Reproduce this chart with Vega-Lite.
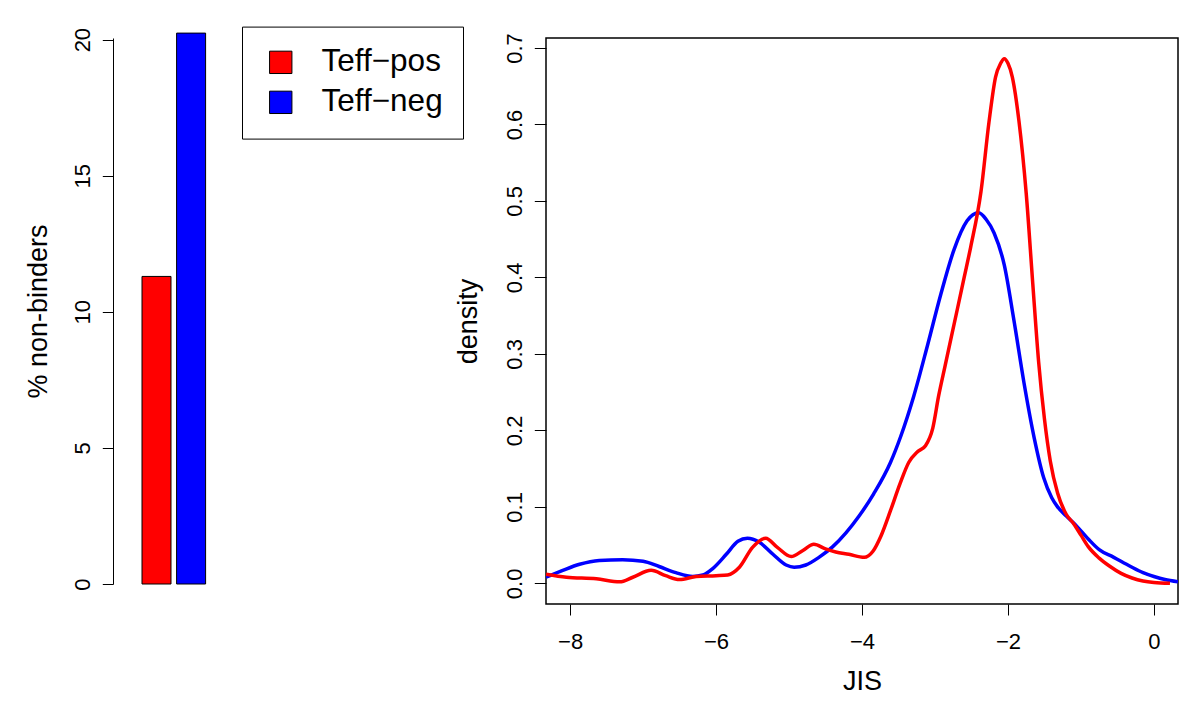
{
  "$schema": "https://vega.github.io/schema/vega-lite/v6.json",
  "padding": {"left": 24, "top": 26, "right": 5, "bottom": 5},
  "background": "white",
  "config": {
    "font": "Liberation Sans",
    "view": {"stroke": null},
    "axis": {
      "domainColor": "black", "tickColor": "black", "labelColor": "black", "titleColor": "black",
      "grid": false, "labelFont": "Liberation Sans", "titleFont": "Liberation Sans",
      "labelFontSize": 22, "titleFontSize": 27, "titleFontWeight": "normal",
      "domainWidth": 1, "tickWidth": 1
    }
  },
  "datasets": {
    "bars": [
      {"group": "Teff−pos", "pct": 11.3},
      {"group": "Teff−neg", "pct": 20.24}
    ],
    "dens": [
      {"group": "Teff−neg", "JIS": -8.33, "density": 0.008},
      {"group": "Teff−neg", "JIS": -8.10, "density": 0.017},
      {"group": "Teff−neg", "JIS": -7.87, "density": 0.025},
      {"group": "Teff−neg", "JIS": -7.60, "density": 0.030},
      {"group": "Teff−neg", "JIS": -7.28, "density": 0.031},
      {"group": "Teff−neg", "JIS": -7.00, "density": 0.029},
      {"group": "Teff−neg", "JIS": -6.78, "density": 0.022},
      {"group": "Teff−neg", "JIS": -6.55, "density": 0.014},
      {"group": "Teff−neg", "JIS": -6.32, "density": 0.009},
      {"group": "Teff−neg", "JIS": -6.18, "density": 0.011},
      {"group": "Teff−neg", "JIS": -6.05, "density": 0.019},
      {"group": "Teff−neg", "JIS": -5.86, "density": 0.038},
      {"group": "Teff−neg", "JIS": -5.70, "density": 0.055},
      {"group": "Teff−neg", "JIS": -5.57, "density": 0.059},
      {"group": "Teff−neg", "JIS": -5.41, "density": 0.054},
      {"group": "Teff−neg", "JIS": -5.22, "density": 0.038},
      {"group": "Teff−neg", "JIS": -5.04, "density": 0.024},
      {"group": "Teff−neg", "JIS": -4.93, "density": 0.021},
      {"group": "Teff−neg", "JIS": -4.77, "density": 0.024},
      {"group": "Teff−neg", "JIS": -4.59, "density": 0.034},
      {"group": "Teff−neg", "JIS": -4.40, "density": 0.048},
      {"group": "Teff−neg", "JIS": -4.22, "density": 0.066},
      {"group": "Teff−neg", "JIS": -4.04, "density": 0.088},
      {"group": "Teff−neg", "JIS": -3.84, "density": 0.117},
      {"group": "Teff−neg", "JIS": -3.61, "density": 0.158},
      {"group": "Teff−neg", "JIS": -3.47, "density": 0.192},
      {"group": "Teff−neg", "JIS": -3.29, "density": 0.245},
      {"group": "Teff−neg", "JIS": -3.10, "density": 0.312},
      {"group": "Teff−neg", "JIS": -2.92, "density": 0.378},
      {"group": "Teff−neg", "JIS": -2.74, "density": 0.436},
      {"group": "Teff−neg", "JIS": -2.56, "density": 0.474},
      {"group": "Teff−neg", "JIS": -2.48, "density": 0.482},
      {"group": "Teff−neg", "JIS": -2.40, "density": 0.4845},
      {"group": "Teff−neg", "JIS": -2.30, "density": 0.476},
      {"group": "Teff−neg", "JIS": -2.19, "density": 0.458},
      {"group": "Teff−neg", "JIS": -2.05, "density": 0.416},
      {"group": "Teff−neg", "JIS": -1.92, "density": 0.345},
      {"group": "Teff−neg", "JIS": -1.78, "density": 0.262},
      {"group": "Teff−neg", "JIS": -1.64, "density": 0.190},
      {"group": "Teff−neg", "JIS": -1.51, "density": 0.138},
      {"group": "Teff−neg", "JIS": -1.40, "density": 0.112},
      {"group": "Teff−neg", "JIS": -1.32, "density": 0.100},
      {"group": "Teff−neg", "JIS": -1.20, "density": 0.088},
      {"group": "Teff−neg", "JIS": -1.10, "density": 0.079},
      {"group": "Teff−neg", "JIS": -0.90, "density": 0.058},
      {"group": "Teff−neg", "JIS": -0.75, "density": 0.044},
      {"group": "Teff−neg", "JIS": -0.55, "density": 0.034},
      {"group": "Teff−neg", "JIS": -0.32, "density": 0.022},
      {"group": "Teff−neg", "JIS": -0.15, "density": 0.014},
      {"group": "Teff−neg", "JIS": 0.00, "density": 0.009},
      {"group": "Teff−neg", "JIS": 0.15, "density": 0.005},
      {"group": "Teff−neg", "JIS": 0.33, "density": 0.002},
      {"group": "Teff−pos", "JIS": -8.33, "density": 0.012},
      {"group": "Teff−pos", "JIS": -8.05, "density": 0.008},
      {"group": "Teff−pos", "JIS": -7.64, "density": 0.006},
      {"group": "Teff−pos", "JIS": -7.32, "density": 0.002},
      {"group": "Teff−pos", "JIS": -7.14, "density": 0.008},
      {"group": "Teff−pos", "JIS": -6.89, "density": 0.017},
      {"group": "Teff−pos", "JIS": -6.69, "density": 0.010},
      {"group": "Teff−pos", "JIS": -6.50, "density": 0.005},
      {"group": "Teff−pos", "JIS": -6.27, "density": 0.009},
      {"group": "Teff−pos", "JIS": -6.00, "density": 0.010},
      {"group": "Teff−pos", "JIS": -5.84, "density": 0.011},
      {"group": "Teff−pos", "JIS": -5.68, "density": 0.021},
      {"group": "Teff−pos", "JIS": -5.50, "density": 0.047},
      {"group": "Teff−pos", "JIS": -5.32, "density": 0.059},
      {"group": "Teff−pos", "JIS": -5.16, "density": 0.047},
      {"group": "Teff−pos", "JIS": -4.97, "density": 0.035},
      {"group": "Teff−pos", "JIS": -4.81, "density": 0.043},
      {"group": "Teff−pos", "JIS": -4.66, "density": 0.051},
      {"group": "Teff−pos", "JIS": -4.50, "density": 0.045},
      {"group": "Teff−pos", "JIS": -4.36, "density": 0.041},
      {"group": "Teff−pos", "JIS": -4.18, "density": 0.038},
      {"group": "Teff−pos", "JIS": -3.97, "density": 0.034},
      {"group": "Teff−pos", "JIS": -3.85, "density": 0.042},
      {"group": "Teff−pos", "JIS": -3.74, "density": 0.062},
      {"group": "Teff−pos", "JIS": -3.61, "density": 0.095},
      {"group": "Teff−pos", "JIS": -3.48, "density": 0.130},
      {"group": "Teff−pos", "JIS": -3.36, "density": 0.158},
      {"group": "Teff−pos", "JIS": -3.24, "density": 0.172},
      {"group": "Teff−pos", "JIS": -3.13, "density": 0.180},
      {"group": "Teff−pos", "JIS": -3.03, "density": 0.203},
      {"group": "Teff−pos", "JIS": -2.95, "density": 0.245},
      {"group": "Teff−pos", "JIS": -2.86, "density": 0.285},
      {"group": "Teff−pos", "JIS": -2.69, "density": 0.360},
      {"group": "Teff−pos", "JIS": -2.60, "density": 0.400},
      {"group": "Teff−pos", "JIS": -2.51, "density": 0.440},
      {"group": "Teff−pos", "JIS": -2.37, "density": 0.512},
      {"group": "Teff−pos", "JIS": -2.26, "density": 0.603},
      {"group": "Teff−pos", "JIS": -2.17, "density": 0.662},
      {"group": "Teff−pos", "JIS": -2.10, "density": 0.680},
      {"group": "Teff−pos", "JIS": -2.05, "density": 0.686},
      {"group": "Teff−pos", "JIS": -2.00, "density": 0.680},
      {"group": "Teff−pos", "JIS": -1.94, "density": 0.662},
      {"group": "Teff−pos", "JIS": -1.85, "density": 0.605},
      {"group": "Teff−pos", "JIS": -1.75, "density": 0.510},
      {"group": "Teff−pos", "JIS": -1.66, "density": 0.392},
      {"group": "Teff−pos", "JIS": -1.58, "density": 0.290},
      {"group": "Teff−pos", "JIS": -1.50, "density": 0.215},
      {"group": "Teff−pos", "JIS": -1.42, "density": 0.160},
      {"group": "Teff−pos", "JIS": -1.32, "density": 0.118},
      {"group": "Teff−pos", "JIS": -1.20, "density": 0.090},
      {"group": "Teff−pos", "JIS": -1.10, "density": 0.078},
      {"group": "Teff−pos", "JIS": -1.00, "density": 0.063},
      {"group": "Teff−pos", "JIS": -0.90, "density": 0.048},
      {"group": "Teff−pos", "JIS": -0.75, "density": 0.033},
      {"group": "Teff−pos", "JIS": -0.60, "density": 0.022},
      {"group": "Teff−pos", "JIS": -0.45, "density": 0.013},
      {"group": "Teff−pos", "JIS": -0.30, "density": 0.007},
      {"group": "Teff−pos", "JIS": -0.15, "density": 0.003},
      {"group": "Teff−pos", "JIS": 0.00, "density": 0.001},
      {"group": "Teff−pos", "JIS": 0.22, "density": 0.000}
    ]
  },
  "bounds": "flush",
  "spacing": 88,
  "resolve": {"scale": {"color": "independent"}, "legend": {"color": "independent"}},
  "hconcat": [
    {
      "width": 345,
      "height": 546,
      "data": {"name": "bars"},
      "mark": {"type": "bar", "stroke": "black", "strokeWidth": 1, "clip": false},
      "encoding": {
        "x": {
          "field": "group", "type": "nominal", "sort": ["Teff−pos", "Teff−neg"],
          "scale": {"range": [29, 92.6], "paddingInner": 0.162, "paddingOuter": 0},
          "axis": null
        },
        "y": {
          "field": "pct", "type": "quantitative",
          "scale": {"domain": [0, 20.06], "nice": false},
          "axis": {
            "values": [0, 5, 10, 15, 20], "title": "% non-binders",
            "labelAngle": 270, "labelAlign": "center", "labelBaseline": "alphabetic",
            "tickSize": 10.7, "labelPadding": 12.7,
            "titleAngle": 270, "titleBaseline": "alphabetic", "titleAlign": "center", "titleX": -66.7
          }
        },
        "color": {
          "field": "group", "type": "nominal",
          "scale": {"domain": ["Teff−pos", "Teff−neg"], "range": ["#FF0000", "#0000FF"]},
          "legend": {
            "orient": "none", "legendX": 129, "legendY": -11.4, "title": null,
            "symbolType": "square", "symbolSize": 500, "symbolStrokeColor": "black", "symbolStrokeWidth": 1,
            "labelFontSize": 31.5, "labelFont": "Liberation Sans", "labelColor": "black",
            "labelOffset": 25, "padding": 20, "symbolOffset": 3, "rowPadding": 7,
            "strokeColor": "black", "fillColor": "white"
          }
        }
      }
    },
    {
      "width": 632,
      "height": 566,
      "data": {"name": "dens"},
      "view": {"stroke": "black", "strokeWidth": 1.5},
      "mark": {"type": "line", "interpolate": "monotone", "strokeWidth": 3.5, "clip": true},
      "encoding": {
        "x": {
          "field": "JIS", "type": "quantitative",
          "scale": {"domain": [-8.33, 0.33], "nice": false, "zero": false},
          "axis": {
            "values": [-8, -6, -4, -2, 0], "title": "JIS", "domain": false,
            "tickSize": 11, "labelPadding": 16, "titleBaseline": "top", "titleY": 64
          }
        },
        "y": {
          "field": "density", "type": "quantitative",
          "scale": {"domain": [-0.027, 0.713], "nice": false, "zero": false},
          "axis": {
            "values": [0, 0.1, 0.2, 0.3, 0.4, 0.5, 0.6, 0.7], "format": ".1f", "title": "density", "domain": false,
            "labelAngle": 270, "labelAlign": "center", "labelBaseline": "alphabetic",
            "tickSize": 11.7, "labelPadding": 13.3,
            "titleAngle": 270, "titleBaseline": "alphabetic", "titleAlign": "center", "titleX": -70
          }
        },
        "color": {
          "field": "group", "type": "nominal",
          "scale": {"domain": ["Teff−pos", "Teff−neg"], "range": ["#FF0000", "#0000FF"]},
          "legend": null
        }
      }
    }
  ]
}
